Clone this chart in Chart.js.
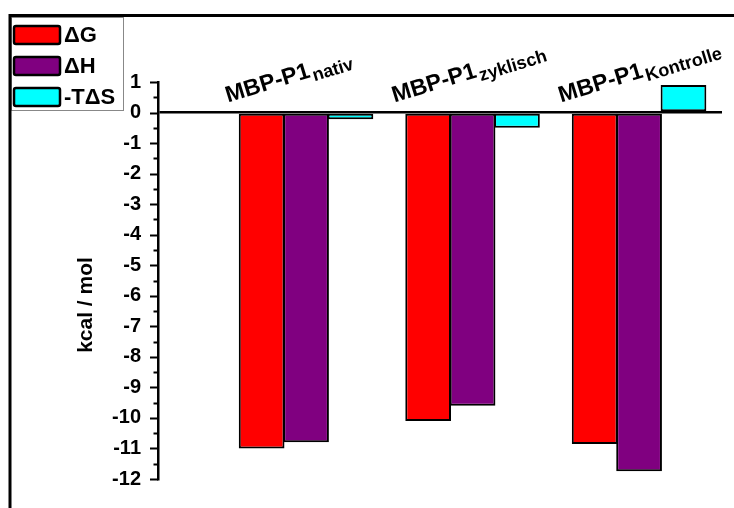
<!DOCTYPE html>
<html>
<head>
<meta charset="utf-8">
<script src="https://cdn.jsdelivr.net/npm/chart.js@4.4.0/dist/chart.umd.min.js"></script>
<style>
  html, body { margin: 0; padding: 0; background: #fff; }
</style>
</head>
<body>
<canvas id="chart" width="734" height="508"></canvas>
<script>
// data
const prefix = "MBP-P1";
const categories = ["nativ", "zyklisch", "Kontrolle"];
const seriesNames = ["\u0394G", "\u0394H", "-T\u0394S"];
const dG = [-11.0, -10.1, -10.85];
const dH = [-10.8, -9.6, -11.75];
const mTdS = [-0.22, -0.5, 0.9];
const yMin = -12;
const yMax = 1;
const yUnit = "kcal / mol";

const colors = ["#ff0000", "#800080", "#00ffff"];
const FONT = '"Liberation Sans", Arial, sans-serif';

const toPoints = vals => vals.map((v, i) => ({ x: i + 1, y: v }));

const decor = {
  id: "decor",
  afterDraw(chart) {
    const ctx = chart.ctx;
    const ys = chart.scales.y;
    const xs = chart.scales.x;
    const area = chart.chartArea;
    ctx.save();

    // tick marks, long at integers, short at halves
    ctx.strokeStyle = "#000";
    ctx.lineWidth = 2;
    ys.ticks.forEach(t => {
      const py = Math.round(ys.getPixelForValue(t.value)) + 0.5;
      const len = Number.isInteger(t.value) ? 8 : 4.5;
      ctx.beginPath();
      ctx.moveTo(area.left - len, py);
      ctx.lineTo(area.left, py);
      ctx.stroke();
    });

    // category labels, rotated, with subscript
    const zero = ys.getPixelForValue(0);
    categories.forEach((c, i) => {
      const cx = xs.getPixelForValue(i + 1);
      ctx.save();
      ctx.translate(cx - 78, zero - 10);
      ctx.rotate(-17 * Math.PI / 180);
      ctx.fillStyle = "#000";
      ctx.textBaseline = "alphabetic";
      ctx.textAlign = "left";
      ctx.font = "bold 23px " + FONT;
      ctx.fillText(prefix, 0, 0);
      const w = ctx.measureText(prefix).width;
      ctx.font = "bold 18px " + FONT;
      ctx.fillText(c, w + 2, 5);
      ctx.restore();
    });

    // y title
    ctx.save();
    ctx.translate(86, 305);
    ctx.rotate(-Math.PI / 2);
    ctx.font = "bold 21px " + FONT;
    ctx.textAlign = "center";
    ctx.textBaseline = "middle";
    ctx.fillStyle = "#000";
    ctx.fillText(yUnit, 0, 0);
    ctx.restore();

    // legend
    ctx.strokeStyle = "#888";
    ctx.lineWidth = 1;
    ctx.strokeRect(11.5, 17.5, 112, 93);
    chart.data.datasets.forEach((ds, i) => {
      const top = 26 + i * 31;
      ctx.beginPath();
      ctx.roundRect(14, top, 46, 18, 2);
      ctx.fillStyle = ds.backgroundColor;
      ctx.fill();
      ctx.strokeStyle = "#000";
      ctx.lineWidth = 2.5;
      ctx.stroke();
      ctx.fillStyle = "#000";
      ctx.font = "bold 22px " + FONT;
      ctx.textAlign = "left";
      ctx.textBaseline = "middle";
      ctx.fillText(ds.label, 64, top + 10);
    });

    // outer frame (top and left visible)
    ctx.strokeStyle = "#000";
    ctx.lineWidth = 3;
    ctx.beginPath();
    ctx.moveTo(734, 15.5);
    ctx.lineTo(10, 15.5);
    ctx.lineTo(10, 508);
    ctx.stroke();

    ctx.restore();
  }
};

new Chart(document.getElementById("chart"), {
  type: "bar",
  data: {
    datasets: [dG, dH, mTdS].map((vals, i) => ({
      label: seriesNames[i],
      data: toPoints(vals),
      backgroundColor: colors[i],
      borderColor: "#000",
      borderWidth: 2,
      borderSkipped: false,
      categoryPercentage: 0.8,
      barPercentage: 1.03
    }))
  },
  options: {
    responsive: false,
    animation: false,
    devicePixelRatio: 1,
    layout: { padding: { top: 82, bottom: 13, right: 12, left: 0 } },
    plugins: { legend: { display: false }, tooltip: { enabled: false } },
    scales: {
      x: {
        type: "linear",
        min: 0.111,
        max: 3.498,
        offset: false,
        display: false,
        afterBuildTicks: s => { s.ticks = categories.map((c, i) => ({ value: i + 1 })); }
      },
      y: {
        min: yMin,
        max: yMax,
        ticks: {
          stepSize: 0.5,
          autoSkip: false,
          callback: v => Number.isInteger(v) ? String(v) : "",
          font: { family: FONT, weight: "bold", size: 20 },
          color: "#000",
          padding: 17
        },
        grid: {
          drawTicks: false,
          color: c => (c.tick && c.tick.value === 0) ? "#000" : "rgba(0,0,0,0)",
          lineWidth: 2.5
        },
        border: { display: true, color: "#000", width: 2.5 },
        afterFit: s => { s.width = 158; }
      }
    }
  },
  plugins: [decor]
});
</script>
</body>
</html>
